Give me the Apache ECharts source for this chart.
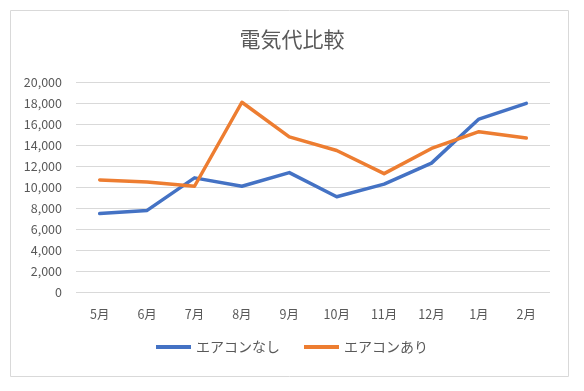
<!DOCTYPE html>
<html>
<head>
<meta charset="utf-8">
<script src="https://cdn.jsdelivr.net/npm/echarts@6/dist/echarts.min.js"></script>
<style>
html,body{margin:0;padding:0;background:#fff;}
#chart{width:584px;height:391px;}
</style>
</head>
<body>
<div id="chart"></div>
<script>
const categories = ['5月','6月','7月','8月','9月','10月','11月','12月','1月','2月'];
const seriesNames = ['エアコンなし','エアコンあり'];
const withoutAC = [7500, 7800, 10900, 10100, 11400, 9100, 10300, 12300, 16500, 18000];
const withAC = [10700, 10500, 10100, 18100, 14800, 13500, 11300, 13700, 15300, 14700];

const chart = echarts.init(document.getElementById('chart'), null, {renderer:'canvas'});
const font = '"Noto Sans CJK JP", "Noto Sans", sans-serif';
chart.setOption({
  animation: false,
  textStyle: {fontFamily: font},
  graphic: [{
    type: 'rect', silent: true,
    shape: {x: 10.5, y: 10.5, width: 558, height: 366},
    style: {fill: 'none', stroke: '#d9d9d9', lineWidth: 1}
  }],
  title: {
    text: '電気代比較',
    left: 'center',
    top: 29,
    padding: 0,
    textStyle: {fontSize: 21, fontWeight: 'normal', color: '#595959', fontFamily: font}
  },
  legend: {
    bottom: 32,
    left: 'center',
    itemWidth: 35,
    itemHeight: 4,
    itemGap: 24,
    icon: 'rect',
    textStyle: {fontSize: 14, color: '#595959', fontFamily: font},
    data: seriesNames
  },
  grid: {left: 76, right: 34, top: 82.3, bottom: 98.7, containLabel: false},
  xAxis: {
    type: 'category',
    data: categories,
    boundaryGap: true,
    axisLine: {show: false},
    axisTick: {show: false},
    axisLabel: {color: '#595959', fontSize: 12.5, margin: 16, fontFamily: font}
  },
  yAxis: {
    type: 'value',
    min: 0, max: 20000, interval: 2000,
    axisLine: {show: false},
    axisTick: {show: false},
    splitLine: {lineStyle: {color: '#d9d9d9', width: 1}},
    axisLabel: {
      color: '#595959', fontSize: 12.5, margin: 14, fontFamily: font,
      formatter: v => v.toLocaleString('en-US')
    }
  },
  series: [
    {
      name: seriesNames[0], type: 'line', data: withoutAC,
      symbol: 'none', color: '#4472C4',
      lineStyle: {width: 3.5, color: '#4472C4', cap: 'round', join: 'round'}
    },
    {
      name: seriesNames[1], type: 'line', data: withAC,
      symbol: 'none', color: '#ED7D31',
      lineStyle: {width: 3.5, color: '#ED7D31', cap: 'round', join: 'round'}
    }
  ]
});
</script>
</body>
</html>
